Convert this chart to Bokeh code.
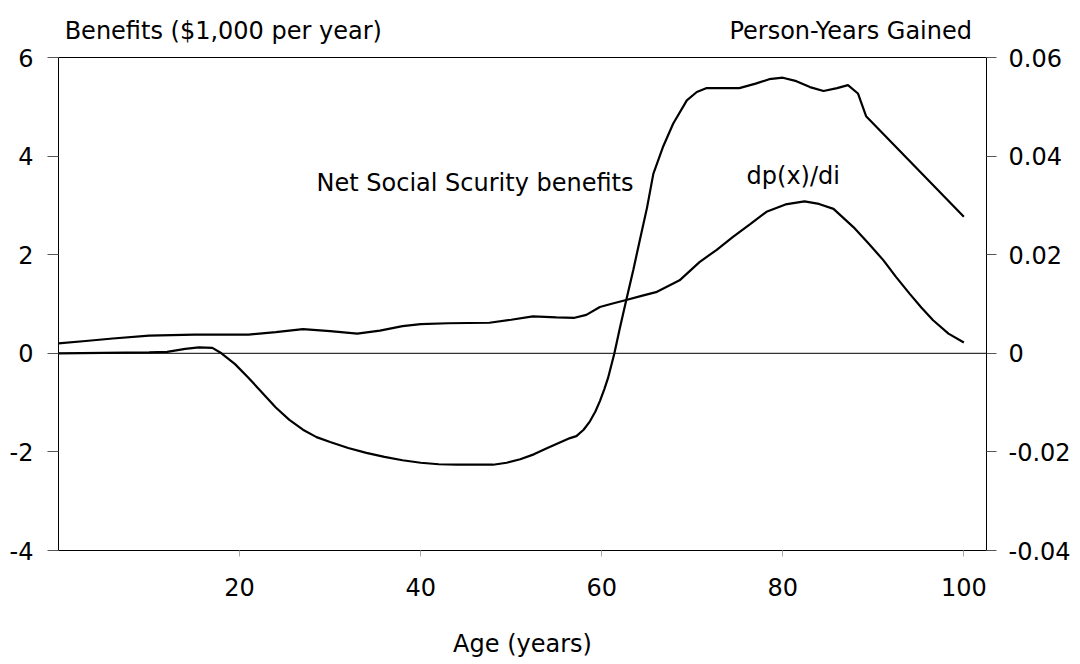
from bokeh.plotting import figure
from bokeh.models import Range1d, LinearAxis, FixedTicker, Span, Label
from bokeh.embed import file_html
from bokeh.resources import INLINE

# ---- data ----
ben_age = [0, 5, 10, 12, 14, 15.5, 17, 18, 19.5, 21, 22.5, 24, 25.5, 27, 28.5, 30, 32, 34, 36, 38,
           40, 42, 44, 46, 48, 49.5, 51, 52.5, 54, 55.5, 56.5, 57.2, 58, 58.7, 59.3, 59.8, 60.3, 60.7, 61.4, 62,
           62.7, 63.5, 64.2, 65, 65.7, 66.8, 67.9, 69.4, 70.5, 71.6, 73.5, 75.2, 77, 78.5, 80, 81.5, 83, 84.5, 86, 87.2,
           88.3, 89.2, 100]
ben_val = [0, 0.01, 0.02, 0.03, 0.09, 0.12, 0.11, 0.0, -0.22, -0.5, -0.8, -1.1, -1.35, -1.55, -1.70, -1.80, -1.92, -2.02, -2.10, -2.17,
           -2.22, -2.25, -2.26, -2.26, -2.26, -2.22, -2.15, -2.05, -1.92, -1.80, -1.72, -1.68, -1.55, -1.38, -1.18, -0.97, -0.72, -0.50, 0.0, 0.51,
           1.07, 1.7, 2.29, 2.95, 3.64, 4.2, 4.66, 5.13, 5.3, 5.38, 5.38, 5.38, 5.47, 5.56, 5.59, 5.52, 5.40, 5.32, 5.38, 5.44,
           5.27, 4.81, 2.77]

dp_age = [0, 3, 6, 10, 15, 21, 24, 27, 30, 33, 35.5, 38, 40, 43, 47.6, 50, 52.4, 55, 57, 58.3,
          59.8, 61, 62.7, 64.5, 66, 68.6, 70.8, 72.7, 74.5, 76.4, 78.2, 80.3, 82.4, 84, 85.6, 87.8, 89.5, 91.1, 92.5, 94,
          95.3, 96.6, 98.3, 100]
dp_val = [0.0020, 0.0025, 0.0030, 0.0036, 0.0038, 0.0038, 0.0043, 0.0049, 0.0045, 0.0040,
          0.0046, 0.0055, 0.0059, 0.0061, 0.0062, 0.0068, 0.0075, 0.0073, 0.0072, 0.0078,
          0.0094, 0.0100, 0.0108, 0.0117, 0.0124, 0.0148, 0.0185, 0.0210, 0.0236, 0.0262,
          0.0287, 0.0302, 0.0308, 0.0303, 0.0293, 0.0256, 0.0222, 0.0189, 0.0155, 0.0121,
          0.0093, 0.0067, 0.0040, 0.0022]

x_ticks = [20, 40, 60, 80, 100]
left_ticks = [-4, -2, 0, 2, 4, 6]
left_labels = ["-4", "-2", "0", "2", "4", "6"]
right_ticks = [-0.04, -0.02, 0, 0.02, 0.04, 0.06]
right_labels = ["-0.04", "-0.02", "0", "0.02", "0.04", "0.06"]
left_title = "Benefits ($1,000 per year)"
right_title = "Person-Years Gained"
x_title = "Age (years)"

FONT = "DejaVu Sans"
FS = "24px"
W, H = 1080, 664

p = figure(width=W, height=H, output_backend="svg", toolbar_location=None,
           x_range=Range1d(0, 102.5), y_range=Range1d(-4, 6),
           min_border_left=58, min_border_right=94, min_border_top=57, min_border_bottom=114)
p.extra_y_ranges = {"right": Range1d(-0.04, 0.06)}
p.grid.visible = False
p.outline_line_color = "black"
p.outline_line_width = 1
p.background_fill_color = "white"
p.border_fill_color = "white"

# x axis
xa = p.xaxis[0]
xa.ticker = FixedTicker(ticks=x_ticks)
xa.major_label_overrides = {t: str(t) for t in x_ticks}
xa.axis_line_color = None
xa.major_tick_in = 0
xa.major_tick_out = 6
xa.major_tick_line_color = "#aaaaaa"
xa.minor_tick_line_color = None
xa.major_label_standoff = 21
xa.major_label_text_font = FONT
xa.major_label_text_font_size = FS
xa.major_label_text_color = "black"
xa.axis_label = x_title
xa.axis_label_text_font = FONT
xa.axis_label_text_font_size = FS
xa.axis_label_text_font_style = "normal"
xa.axis_label_text_color = "black"
xa.axis_label_standoff = 31

# left axis
ya = p.yaxis[0]
ya.ticker = FixedTicker(ticks=left_ticks)
ya.major_label_overrides = dict(zip(left_ticks, left_labels))
ya.axis_line_color = None
ya.major_tick_in = 0
ya.major_tick_out = 11
ya.major_tick_line_color = "#555555"
ya.minor_tick_line_color = None
ya.major_label_standoff = 14
ya.major_label_text_font = FONT
ya.major_label_text_font_size = FS
ya.major_label_text_color = "black"

# right axis
ra = LinearAxis(y_range_name="right")
ra.ticker = FixedTicker(ticks=right_ticks)
ra.major_label_overrides = dict(zip(right_ticks, right_labels))
ra.axis_line_color = None
ra.major_tick_in = 0
ra.major_tick_out = 10
ra.major_tick_line_color = "#555555"
ra.minor_tick_line_color = None
ra.major_label_standoff = 12
ra.major_label_text_font = FONT
ra.major_label_text_font_size = FS
ra.major_label_text_color = "black"
p.add_layout(ra, "right")

# top "axis" carrying the two axis titles as labels
title_pos = [18.2, 87.5]
ta = LinearAxis()
ta.ticker = FixedTicker(ticks=title_pos)
ta.major_label_overrides = {title_pos[0]: left_title, title_pos[1]: right_title}
ta.axis_line_color = None
ta.major_tick_line_color = None
ta.minor_tick_line_color = None
ta.major_tick_in = 0
ta.major_tick_out = 0
ta.major_label_standoff = 13
ta.major_label_text_font = FONT
ta.major_label_text_font_size = FS
ta.major_label_text_color = "black"
p.add_layout(ta, "above")

# zero line
p.add_layout(Span(location=0, dimension="width", line_color="black", line_width=1))

# curves
p.line(ben_age, ben_val, line_color="black", line_width=2.2)
p.line(dp_age, dp_val, line_color="black", line_width=2.2, y_range_name="right")

# texts inside the plot
def lab(x, y, t, align="left"):
    p.add_layout(Label(x=x, y=y, text=t, text_font=FONT, text_font_size=FS,
                       text_color="black", text_align=align, text_baseline="alphabetic"))

lab(28.5, 3.45, "Net Social Scurity benefits")
lab(76.0, 3.59, "dp(x)/di")

open("out.html", "w").write(file_html(p, INLINE))
